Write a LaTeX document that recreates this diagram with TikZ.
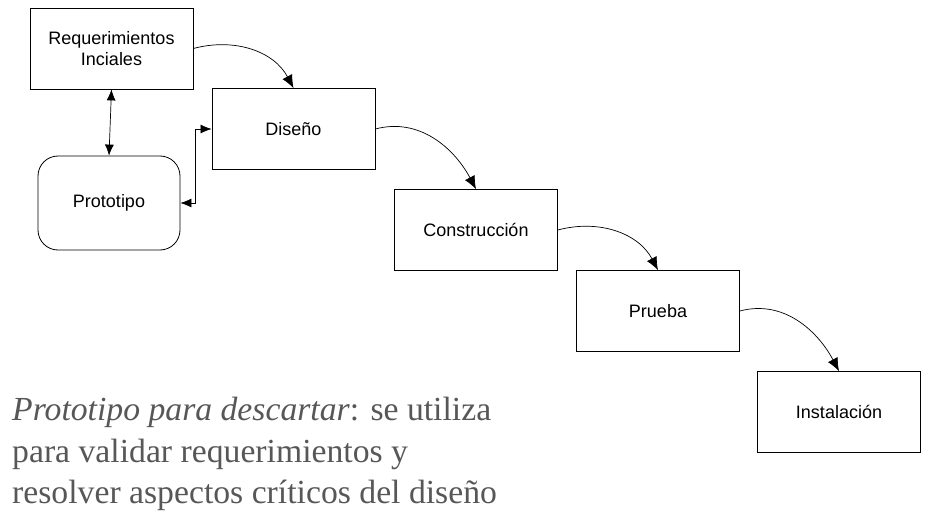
\documentclass[tikz,border=0pt]{standalone}
\usepackage{fontspec}
\setmainfont{Liberation Serif}
\newfontfamily\boxfont{Liberation Sans}
\usetikzlibrary{arrows.meta}

\tikzset{
  etapa/.style={draw, line width=0.8pt, minimum width=163pt, minimum height=81pt,
    align=center, font=\boxfont\fontsize{18}{21}\selectfont},
  flecha/.style={line width=0.7pt, -{Latex[length=13pt,width=11pt]}},
  doble/.style={line width=0.7pt, {Latex[length=11pt,width=9pt]}-{Latex[length=11pt,width=9pt]}}
}

\begin{document}
\begin{tikzpicture}[x=1pt,y=-1pt]
                \useasboundingbox (0,0) rectangle (931,521);
                \node[etapa] (req) at (111.5,48.5) {Requerimientos\\Inciales};
                \node[etapa] (dis) at (293.5,129) {Diseño};
                \node[etapa] (con) at (476,230) {Construcción};
                \node[etapa] (pru) at (658,311) {Prueba};
                \node[etapa] (ins) at (839,412) {Instalación};
                \node[etapa, rounded corners=20pt, minimum width=142pt, minimum height=94pt] (pro) at (109,203) {Prototipo};
                \draw[flecha] (req.east) to[out=15,in=118] (dis.north);
                \draw[flecha] (dis.east) to[out=15,in=118] (con.north);
                \draw[flecha] (con.east) to[out=15,in=118] (pru.north);
                \draw[flecha] (pru.east) to[out=15,in=118] (ins.north);
                \draw[doble] (req.south) -- (pro.north);
                \draw[doble] (pro.east) -- ++(15,0) |- (dis.west);
                \node[anchor=north west, align=left, text=black!66, font=\fontsize{33.7}{41.5}\selectfont, inner sep=0pt] (txt) at (12,397)
                  {\textit{Prototipo para descartar}: se utiliza\\para validar requerimientos y\\resolver aspectos críticos del diseño};
            \end{tikzpicture}
\end{document}
